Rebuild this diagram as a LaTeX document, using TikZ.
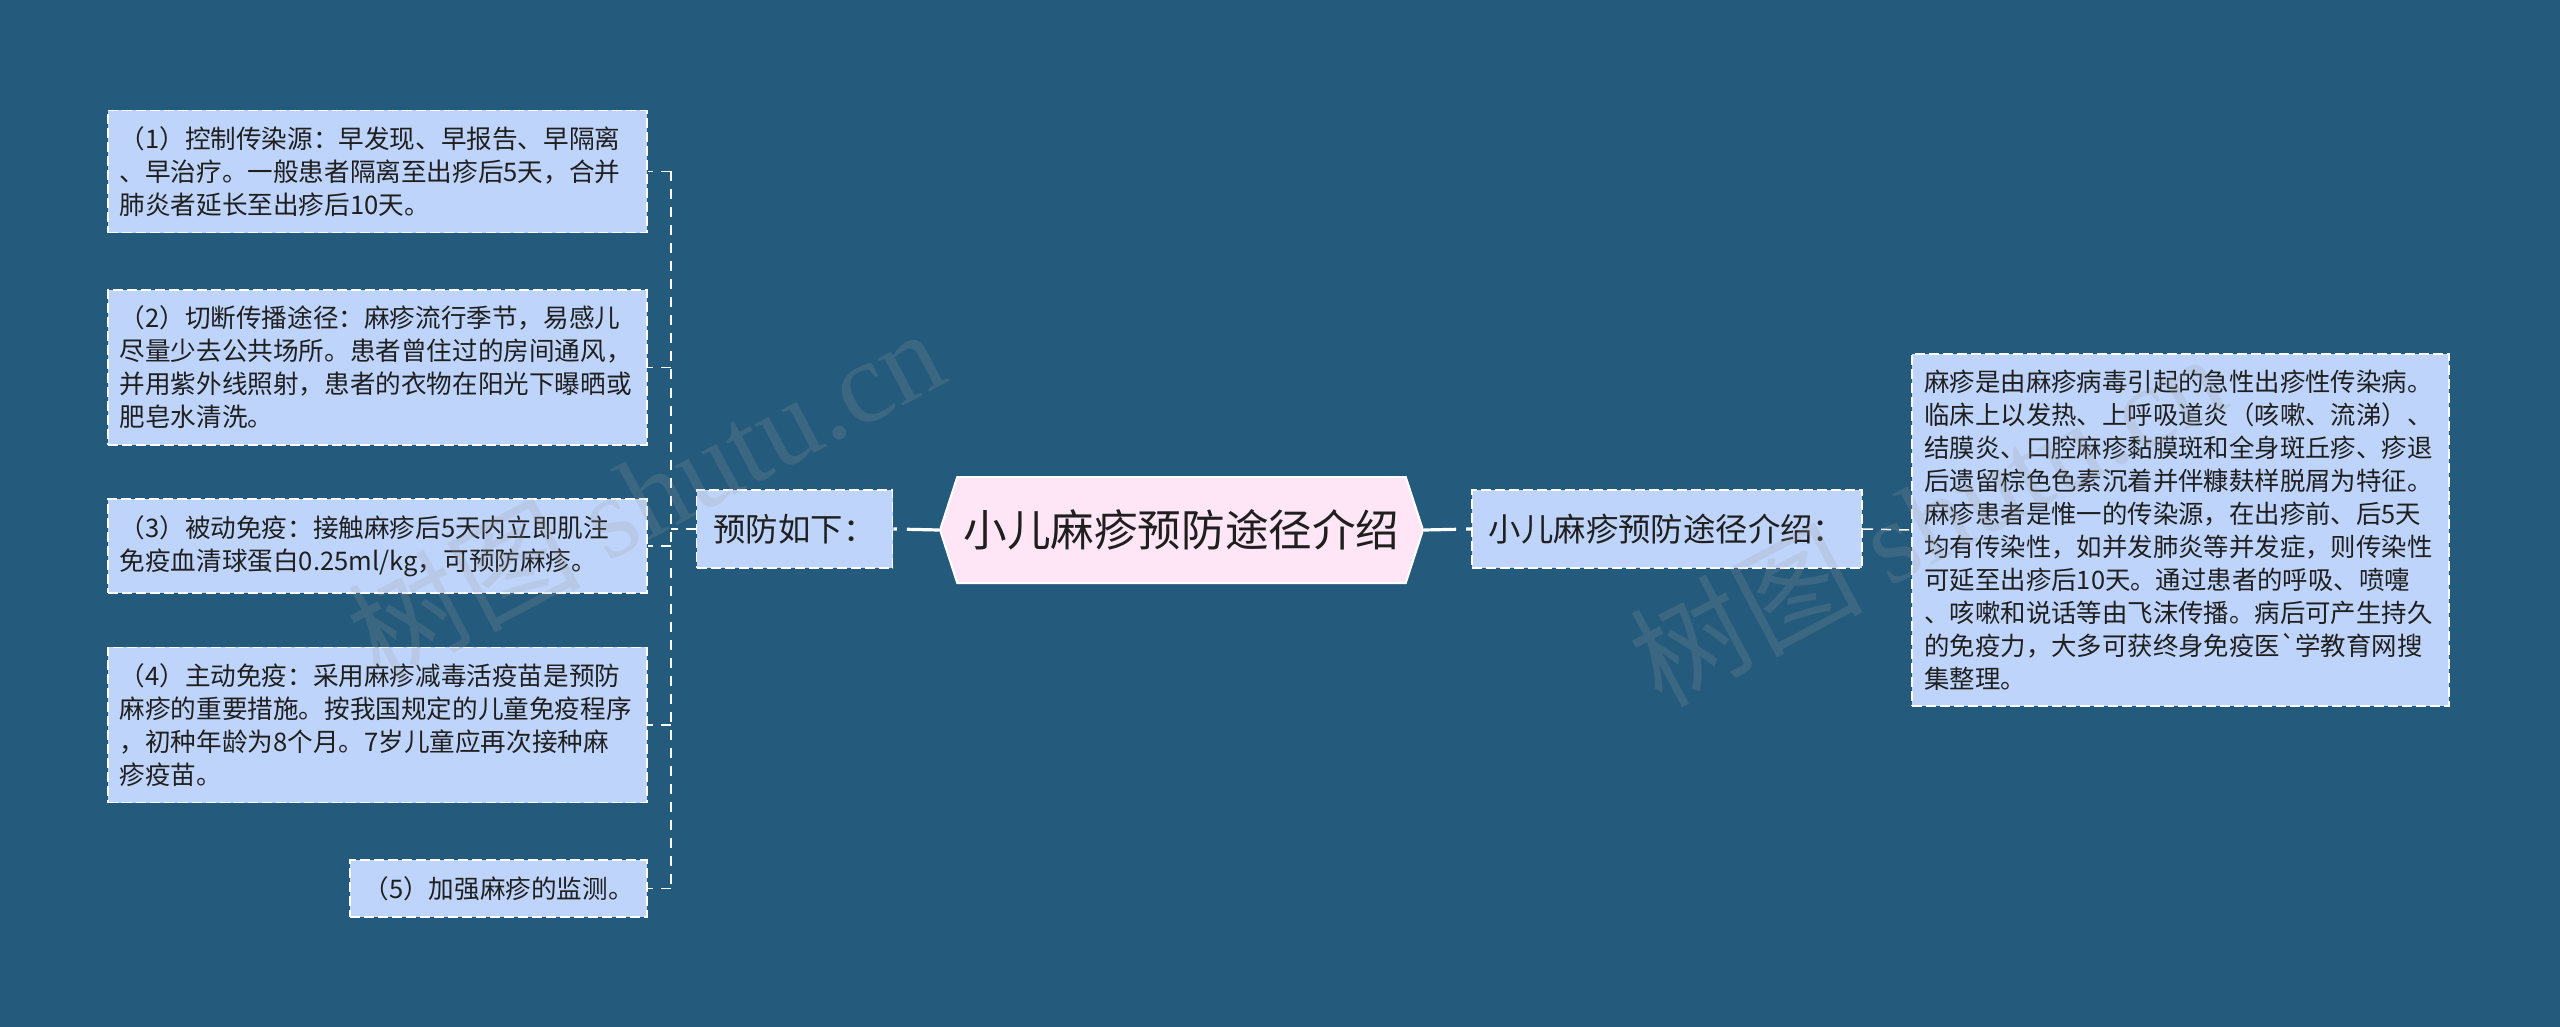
\documentclass[tikz,border=0pt]{standalone}
\usepackage{fontspec}
\setmainfont{Noto Sans CJK SC}
\newfontfamily\rawcjk{Noto Sans CJK SC}
\newfontfamily\markfont{Liberation Serif}
\usetikzlibrary{shapes.symbols}

\definecolor{mapbg}{HTML}{245A7B}
\definecolor{leaffill}{HTML}{BFD4FA}
\definecolor{hubfill}{HTML}{FFE6F6}
\definecolor{inktext}{HTML}{1F1F1F}

\tikzset{
  leaf/.style={draw=white, line width=0.9pt, dash pattern=on 5pt off 2pt, fill=leaffill, text=inktext,
    font=\fontsize{12.8}{16.5}\selectfont, inner xsep=5.75pt, inner ysep=8pt, align=left, text width=258pt},
  mid/.style={draw=white, line width=0.9pt, dash pattern=on 5pt off 2pt, fill=leaffill, text=inktext,
    font=\fontsize{16.2}{19}\selectfont, inner xsep=8.5pt, minimum height=39pt},
  hub/.style={signal, signal to=west and east, signal pointer angle=144, draw=white, line width=1pt,
    fill=hubfill, text=inktext, font=\fontsize{21.8}{26}\selectfont, minimum width=241.5pt, minimum height=53pt, inner sep=2pt},
  mainlink/.style={white, line width=1.6pt, dash pattern=on 16pt off 5pt},
  twig/.style={white, line width=0.75pt, dash pattern=on 5pt off 4pt},
  wmark/.style={text=gray!75, opacity=0.2, font=\fontsize{58}{58}\selectfont, rotate=28}
}

\begin{document}
\begin{tikzpicture}[x=0.5pt,y=-0.5pt]
\fill[mapbg] (0,0) rectangle (2560,1027);
\useasboundingbox (0,0) rectangle (2560,1027);

% centre
\node[hub] (hub) at (1181.5,530) {小儿麻疹预防途径介绍};
\node[mid] (yf) at (794.5,529) {预防如下：};
\node[mid] (intro) at (1667,529) {小儿麻疹预防途径介绍：};

% right
\node[leaf, font=\fontsize{12.7}{16.5}\selectfont, text width=256pt, inner xsep=6.25pt] (detail) at (2180.5,530)
  {麻疹是由麻疹病毒引起的急性出疹性传染病。\\
   临床上以发热、上呼吸道炎（咳嗽、流涕）、\\
   结膜炎、口腔麻疹黏膜斑和全身斑丘疹、疹退\\
   后遗留棕色色素沉着并伴糠麸样脱屑为特征。\\
   麻疹患者是惟一的传染源，在出疹前、后5天\\
   均有传染性，如并发肺炎等并发症，则传染性\\
   可延至出疹后10天。通过患者的呼吸、喷嚏\\
   、咳嗽和说话等由飞沫传播。病后可产生持久\\
   的免疫力，大多可获终身免疫医{\rawcjk`}学教育网搜\\
   集整理。};

% left
\node[leaf, anchor=east] (prev1) at (648,171.5)
  {（1）控制传染源：早发现、早报告、早隔离\\
   、早治疗。一般患者隔离至出疹后5天，合并\\
   肺炎者延长至出疹后10天。};
\node[leaf, anchor=east] (prev2) at (648,367.5)
  {（2）切断传播途径：麻疹流行季节，易感儿\\
   尽量少去公共场所。患者曾住过的房间通风，\\
   并用紫外线照射，患者的衣物在阳光下曝晒或\\
   肥皂水清洗。};
\node[leaf, anchor=east] (prev3) at (648,546)
  {（3）被动免疫：接触麻疹后5天内立即肌注\\
   免疫血清球蛋白0.25ml/kg，可预防麻疹。};
\node[leaf, anchor=east] (prev4) at (648,725)
  {（4）主动免疫：采用麻疹减毒活疫苗是预防\\
   麻疹的重要措施。按我国规定的儿童免疫程序\\
   ，初种年龄为8个月。7岁儿童应再次接种麻\\
   疹疫苗。};
\node[leaf, anchor=east, text width=, align=center, minimum width=148.5pt] (prev5) at (648,888.5)
  {（5）加强麻疹的监测。};

% links
\draw[mainlink] (hub.west) -- (yf.east);
\draw[mainlink] (hub.east) -- (intro.west);
\draw[twig] (intro.east) -- (detail.west);

\coordinate (fork) at (671,529);
\draw[twig] (yf.west) -- (fork);
\draw[twig] (fork |- prev1.east) -- (fork |- prev5.east);
\foreach \k in {1,...,5}{
\draw[twig] (fork |- prev\k.east) -- (prev\k.east);
}

% watermark
\node[wmark] (wm1) at (645,493) {树图 \markfont shutu.cn};
\node[wmark] (wm2) at (1927,518) {树图 \markfont shutu.cn};
\end{tikzpicture}
\end{document}
